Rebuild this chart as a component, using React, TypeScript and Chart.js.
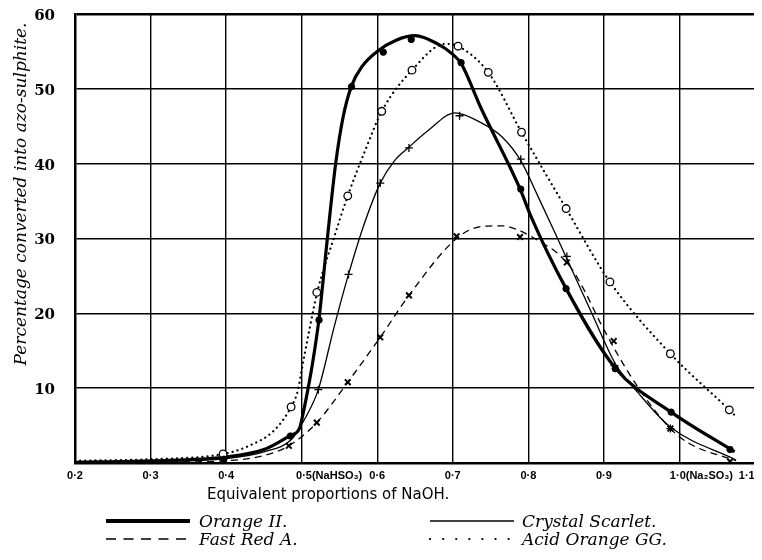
import React, { useEffect, useRef } from "react";
import { Chart, registerables } from "chart.js";

Chart.register(...registerables);

// ---- axis ticks ----
const xTickValues = [0.2, 0.3, 0.4, 0.5, 0.6, 0.7, 0.8, 0.9, 1.0, 1.1];
const xTickLabels = ["0·2", "0·3", "0·4", "0·5(NaHSO₃)", "0·6", "0·7", "0·8", "0·9", "1·0(Na₂SO₃)", "1·1"];
const yTickValues = [0, 10, 20, 30, 40, 50, 60];

const xAxisTitle = "Equivalent proportions of NaOH.";
const yAxisTitle = "Percentage converted into azo-sulphite.";
const seriesNames = ["Orange II.", "Crystal Scarlet.", "Fast Red A.", "Acid Orange GG."];

// ---- observed points (markers) ----
const orangeMarksX = [0.397, 0.485, 0.523, 0.566, 0.608, 0.645, 0.711, 0.79, 0.85, 0.915, 0.989, 1.067];
const orangeMarksY = [0.5, 3.6, 19.1, 50.3, 54.9, 56.6, 53.5, 36.6, 23.3, 12.6, 6.8, 1.8];

const crystalMarksX = [0.522, 0.562, 0.604, 0.642, 0.709, 0.79, 0.851, 0.914, 0.988];
const crystalMarksY = [9.8, 25.2, 37.4, 42.1, 46.4, 40.6, 27.6, 13.0, 4.6];

const fastMarksX = [0.483, 0.52, 0.561, 0.604, 0.642, 0.705, 0.789, 0.851, 0.913, 0.988, 1.067];
const fastMarksY = [2.3, 5.4, 10.8, 16.8, 22.4, 30.3, 30.2, 26.8, 16.3, 4.6, 0.2];

const acidMarksX = [0.396, 0.486, 0.52, 0.561, 0.606, 0.646, 0.707, 0.747, 0.791, 0.85, 0.908, 0.988, 1.066];
const acidMarksY = [1.2, 7.5, 22.8, 35.7, 47.0, 52.5, 55.7, 52.2, 44.2, 34.0, 24.2, 14.6, 7.1];

// ---- hand-drawn curves ----
const orangeCurveX = [0.2, 0.3, 0.4, 0.45, 0.485, 0.497, 0.501, 0.508, 0.515, 0.523, 0.534, 0.545, 0.555, 0.566, 0.58, 0.6, 0.625, 0.65, 0.68, 0.7, 0.711, 0.737, 0.79, 0.802, 0.85, 0.915, 0.989, 1.073];
const orangeCurveY = [0.1, 0.3, 0.8, 1.8, 3.7, 4.6, 6.2, 9.7, 13.7, 19.3, 30, 40, 46.3, 50.4, 53, 55, 56.5, 57.1, 56, 54.6, 53.4, 47.5, 36.4, 33.3, 23.3, 12.7, 6.8, 1.5];

const crystalCurveX = [0.2, 0.3, 0.4, 0.45, 0.486, 0.503, 0.522, 0.543, 0.562, 0.583, 0.604, 0.623, 0.642, 0.667, 0.703, 0.737, 0.765, 0.79, 0.812, 0.836, 0.851, 0.884, 0.915, 0.946, 0.988, 1.075];
const crystalCurveY = [0, 0.2, 0.6, 1.5, 3.1, 5.7, 9.8, 18.2, 25.2, 32, 37.4, 40.4, 42.2, 44.4, 46.8, 45.5, 43.6, 40.4, 35.8, 30.6, 27.3, 20, 13.3, 9.3, 4.8, 0.4];

const fastCurveX = [0.2, 0.3, 0.4, 0.45, 0.483, 0.52, 0.561, 0.604, 0.642, 0.705, 0.738, 0.765, 0.785, 0.815, 0.84, 0.857, 0.875, 0.898, 0.942, 0.988, 1.013, 1.066, 1.075];
const fastCurveY = [0, 0.1, 0.3, 1, 2.3, 5.4, 10.8, 16.8, 22.4, 30, 31.6, 31.7, 31.2, 29.6, 27.9, 26, 22.9, 18.2, 10.6, 4.6, 2.6, 0.6, 0.3];

const acidCurveX = [0.2, 0.3, 0.396, 0.428, 0.464, 0.486, 0.495, 0.5, 0.51, 0.521, 0.543, 0.561, 0.585, 0.606, 0.646, 0.69, 0.707, 0.747, 0.791, 0.85, 0.908, 0.988, 1.066, 1.075];
const acidCurveY = [0.3, 0.5, 1.2, 2.2, 4.4, 7.5, 9.7, 12.4, 17.7, 23, 30.2, 35.7, 42, 47, 52.5, 56, 55.7, 52.2, 44.2, 34, 24.2, 14.6, 7.1, 6.2];

const xy = (xs: number[], ys: number[]) => xs.map((x, i) => ({ x, y: ys[i] }));

const padLabel = (s: string, i: number) => {
  if (i === 3) return "\u2002".repeat(10) + s;
  if (i === 8) return "\u2002".repeat(8) + s;
  if (i === xTickLabels.length - 1) return s + "\u2002".repeat(3);
  return s;
};

export default function App() {
  const ref = useRef<HTMLCanvasElement | null>(null);

  useEffect(() => {
    document.body.style.overflow = "hidden";
    const canvas = ref.current;
    if (!canvas) return;

    const curve = (xs: number[], ys: number[], width: number, dash: number[], cap: any = "butt") => ({
      data: xy(xs, ys),
      showLine: true,
      borderColor: "#000",
      backgroundColor: "#000",
      borderWidth: width,
      borderDash: dash,
      borderCapStyle: cap,
      borderJoinStyle: "round",
      pointRadius: 0,
      pointHoverRadius: 0,
      cubicInterpolationMode: "monotone",
      fill: false,
      order: 2,
    });

    const marks = (xs: number[], ys: number[], style: string, r: number, bg: string, bw: number) => ({
      data: xy(xs, ys),
      showLine: false,
      pointStyle: style,
      pointRadius: r,
      pointBackgroundColor: bg,
      pointBorderColor: "#000",
      pointBorderWidth: bw,
      borderColor: "#000",
      backgroundColor: bg,
      order: 1,
    });

    const chart = new Chart(canvas, {
      type: "scatter",
      data: {
        datasets: [
          curve(orangeCurveX, orangeCurveY, 3.2, []),
          curve(crystalCurveX, crystalCurveY, 1.3, []),
          curve(fastCurveX, fastCurveY, 1.3, [7, 5]),
          curve(acidCurveX, acidCurveY, 2.2, [0.1, 5], "round"),
          marks(orangeMarksX, orangeMarksY, "circle", 3.2, "#000", 1),
          marks(crystalMarksX, crystalMarksY, "cross", 4, "#000", 1.3),
          marks(fastMarksX, fastMarksY, "crossRot", 4, "#000", 2),
          marks(acidMarksX, acidMarksY, "circle", 3.8, "#fff", 1.3),
        ] as any,
      },
      options: {
        animation: false,
        responsive: false,
        layout: { padding: { left: 0, top: 5, right: 7, bottom: 0 } },
        plugins: { legend: { display: false }, tooltip: { enabled: false } },
        scales: {
          x: {
            type: "linear",
            min: 0.2,
            max: 1.1,
            afterBuildTicks: (s: any) => {
              s.ticks = xTickValues.map((v) => ({ value: v }));
            },
            afterFit: (s: any) => {
              s.height = 45;
              s.paddingLeft = 0;
              s.paddingRight = 0;
            },
            grid: {
              color: "#000",
              drawTicks: false,
              lineWidth: (c: any) => (c.tick && Math.abs(c.tick.value - 1.1) < 1e-6 ? 2.5 : 1.4),
            },
            border: { display: true, color: "#000", width: 2.5 },
            ticks: {
              autoSkip: false,
              maxRotation: 0,
              minRotation: 0,
              padding: 6,
              color: "#000",
              font: { family: "'Liberation Sans', 'DejaVu Sans', sans-serif", weight: "bold", size: 11 },
              callback: (_v: any, i: number) => padLabel(xTickLabels[i] ?? "", i),
            },
          },
          y: {
            type: "linear",
            min: 0,
            max: 60,
            afterBuildTicks: (s: any) => {
              s.ticks = yTickValues.map((v) => ({ value: v }));
            },
            afterFit: (s: any) => {
              s.width = 67;
              s.paddingTop = 0;
              s.paddingBottom = 0;
            },
            grid: {
              color: "#000",
              drawTicks: false,
              lineWidth: (c: any) => (c.tick && c.tick.value === 60 ? 2.5 : 1.4),
            },
            border: { display: true, color: "#000", width: 2.5 },
            ticks: {
              padding: 20,
              labelOffset: 2,
              color: "#000",
              font: { family: "'DejaVu Serif', serif", weight: "bold", size: 15 },
              callback: (v: any) => (v === 0 ? "" : String(v)),
            },
            title: {
              display: true,
              text: yAxisTitle + "\u2002",
              align: "end",
              color: "#000",
              font: { family: "'DejaVu Serif', serif", style: "italic", size: 17 },
              padding: { top: 3, bottom: 0 },
            },
          },
        },
      } as any,
    });

    return () => chart.destroy();
  }, []);

  const legendText: React.CSSProperties = {
    position: "absolute",
    font: "italic 17px 'DejaVu Serif', serif",
    lineHeight: "18px",
    color: "#000",
    whiteSpace: "nowrap",
  };

  const sample = (left: number, top: number, props: any) => (
    <svg style={{ position: "absolute", left, top }} width={86} height={18}>
      <line x1={1} y1={9} x2={85} y2={9} stroke="#000" {...props} />
    </svg>
  );

  return (
    <div style={{ position: "relative", width: 754, height: 544 }}>
      <canvas ref={ref} width={754} height={500} style={{ position: "absolute", left: 0, top: 0 }} />
      <div
        style={{
          position: "absolute",
          left: 199,
          top: 477,
          font: "15px 'DejaVu Sans', sans-serif",
          lineHeight: "18px",
          color: "#000",
          whiteSpace: "nowrap",
        }}
      >
        {xAxisTitle}
      </div>
      {sample(97, 504, { strokeWidth: 4 })}
      <div style={{ ...legendText, left: 191, top: 504 }}>{seriesNames[0]}</div>
      {sample(421, 504, { strokeWidth: 1.3 })}
      <div style={{ ...legendText, left: 514, top: 504 }}>{seriesNames[1]}</div>
      {sample(97, 522, { strokeWidth: 1.3, strokeDasharray: "10 7.5" })}
      <div style={{ ...legendText, left: 191, top: 522 }}>{seriesNames[2]}</div>
      {sample(421, 522, { strokeWidth: 2.2, strokeDasharray: "0.1 13", strokeLinecap: "round" })}
      <div style={{ ...legendText, left: 514, top: 522 }}>{seriesNames[3]}</div>
    </div>
  );
}
